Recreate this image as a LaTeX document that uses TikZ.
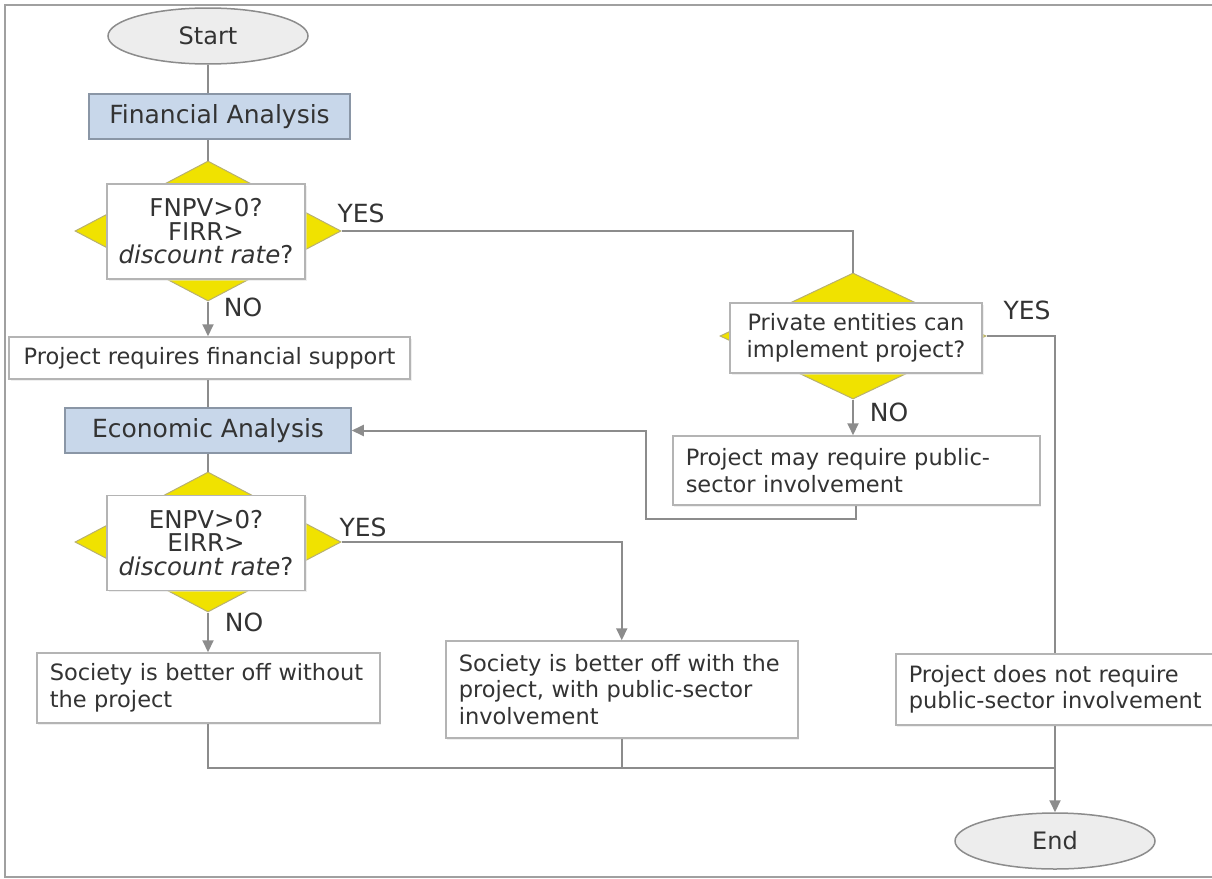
\documentclass[tikz,border=0pt]{standalone}
\usepackage{fontspec}
\setmainfont{DejaVu Sans}
\usetikzlibrary{shapes.geometric,arrows.meta,shadows}
\newcommand{\bodyfont}{\fontsize{22.5}{26.5}\selectfont}
\newcommand{\headfont}{\fontsize{25}{28}\selectfont}
\newcommand{\qfont}{\fontsize{24.5}{23.5}\selectfont}
\newcommand{\lblfont}{\fontsize{25}{28}\selectfont}
\newcommand{\termfont}{\fontsize{24}{28}\selectfont}
\definecolor{conn}{HTML}{8C8C8C}
\definecolor{boxline}{HTML}{B4B4B4}
\definecolor{txt}{HTML}{333333}
\definecolor{headfill}{HTML}{C8D7EA}
\definecolor{headline}{HTML}{8A96A6}
\definecolor{yel}{HTML}{F0E200}
\definecolor{yelline}{HTML}{B8B070}
\definecolor{ellfill}{HTML}{EDEDED}
\definecolor{ellline}{HTML}{8C8C8C}
\definecolor{framec}{HTML}{A0A0A0}
\begin{document}
\begin{tikzpicture}[x=1pt,y=-1pt,
  every node/.style={text=txt},
  conline/.style={draw=conn, line width=2pt},
  arr/.style={conline, -{Triangle[length=12pt,width=11pt]}},
  termnode/.style={ellipse, draw=ellline, fill=ellfill, line width=1.5pt,
    minimum width=200pt, minimum height=56pt, inner sep=0pt, font=\termfont},
  headbox/.style={rectangle, draw=headline, fill=headfill, line width=1.5pt,
    minimum width=261pt, minimum height=45pt, inner sep=0pt, font=\headfont},
  dshape/.style={diamond, fill=yel, draw=yelline, line width=1pt,
    minimum width=266pt, minimum height=140pt, inner sep=0pt},
  qbox/.style={rectangle, fill=white, draw=boxline, line width=1.5pt,
    minimum width=198pt, minimum height=95pt, align=center, font=\qfont, inner sep=0pt,
    drop shadow={shadow xshift=1.5pt,shadow yshift=-1.5pt,fill=black!12}},
  plainbox/.style={rectangle, fill=white, draw=boxline, line width=1.5pt,
    inner sep=0pt, font=\bodyfont,
    drop shadow={shadow xshift=1.5pt,shadow yshift=-1.5pt,fill=black!12}},
  lbox/.style={plainbox, align=left, inner xsep=13pt, inner ysep=0pt, anchor=west},
  lbl/.style={font=\lblfont, inner sep=0pt}
]
\useasboundingbox (0,0) rectangle (1212,878);
\draw[framec, line width=2pt] (1230,5) -- (5,5) -- (5,877) -- (1230,877);

% nodes
\node[termnode] (start) at (208,36) {Start};
\node[headbox] (fa) at (219.5,116.5) {Financial Analysis};
\node[dshape] (d1) at (208,231) {};
\node[qbox] (q1) at (206,231.5) {FNPV>0?\\FIRR>\\\textit{discount rate}?};
\node[lbl] (yes1) at (361,213) {YES};
\node[lbl] (no1) at (243,307) {NO};
\node[plainbox, minimum width=401pt, minimum height=42pt] (pr) at (209.5,358) {Project requires financial support};
\node[headbox, minimum width=286pt] (ea) at (208,430.5) {Economic Analysis};
\node[dshape] (d3) at (208,542) {};
\node[qbox] (q3) at (206,543) {ENPV>0?\\EIRR>\\\textit{discount rate}?};
\node[lbl] (yes3) at (363,527) {YES};
\node[lbl] (no3) at (244,622) {NO};
\node[lbox, minimum width=343pt, minimum height=70pt, text width=317pt] (sw) at (36,688) {Society is better off without\\the project};
\node[lbox, minimum width=352pt, minimum height=97pt, text width=326pt] (swith) at (445,689.5) {Society is better off with the\\project, with public-sector\\involvement};
\node[dshape, minimum height=126pt] (d2) at (853,336) {};
\node[plainbox, minimum width=252pt, minimum height=70pt, align=center] (q2) at (856,338) {Private entities can\\implement project?};
\node[lbl] (yes2) at (1027,310) {YES};
\node[lbl] (no2) at (889,412) {NO};
\node[lbox, minimum width=367pt, minimum height=69pt, text width=341pt] (pm) at (672,470.5) {Project may require public-\\sector involvement};
\node[lbox, minimum width=322pt, minimum height=71pt, text width=296pt] (pn) at (895,689.5) {Project does not require\\public-sector involvement};
\node[termnode] (end) at (1055,841) {End};

% helper coordinates
\coordinate (pmturn) at (646,519);
\coordinate (mrg) at (1055,768);

% connectors
\draw[conline] (start.south) -- (start.south |- fa.north);
\draw[conline] (fa.south -| d1.north) -- (d1.north);
\draw[conline] (d1.east) -| (d2.north);
\draw[arr] (d1.south) -- (d1.south |- pr.north);
\draw[conline] (ea.north |- pr.south) -- (ea.north);
\draw[conline] (d2.east) -| (mrg |- pn.north);
\draw[arr] (d2.south) -- (d2.south |- pm.north);
\draw[arr] (pm.south) |- (pmturn) |- (ea.east);
\draw[conline] (ea.south) -- (d3.north);
\draw[arr] (d3.east) -| (swith.north);
\draw[arr] (d3.south) -- (d3.south |- sw.north);
\draw[conline] (sw.south) |- (mrg);
\draw[conline] (swith.south) -- (swith.south |- mrg);
\draw[arr] (mrg |- pn.south) -- (end.north);
\end{tikzpicture}
\end{document}
